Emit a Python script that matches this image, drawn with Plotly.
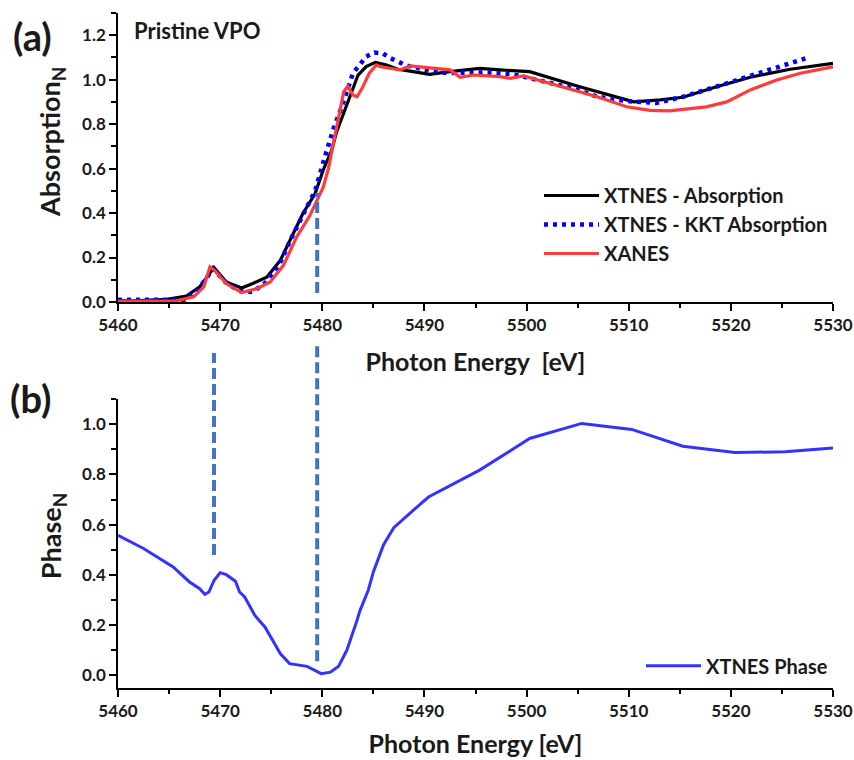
import plotly.graph_objects as go
from plotly.subplots import make_subplots

# ---- (a) normalised absorption, Pristine VPO ----
abs_energy = [5460, 5462, 5464.8, 5466.7, 5468.0, 5469.4, 5470.6, 5472.1, 5473.2, 5474.6,
              5475.9, 5477.2, 5478.1, 5479.3, 5480.1, 5480.9, 5481.4, 5482.7, 5483.5, 5484.3,
              5485.2, 5486.3, 5487.4, 5488.9, 5490.5, 5492.5, 5495.4, 5497.4, 5500.3, 5505.2,
              5510.5, 5513.1, 5515.3, 5518.6, 5521.9, 5525.8, 5530]
abs_xtnes = [0.005, 0.006, 0.012, 0.027, 0.068, 0.155, 0.090, 0.063, 0.083, 0.113,
             0.188, 0.308, 0.398, 0.488, 0.595, 0.680, 0.765, 0.923, 1.021, 1.059,
             1.078, 1.066, 1.047, 1.036, 1.024, 1.036, 1.051, 1.044, 1.036, 0.968,
             0.900, 0.909, 0.921, 0.968, 1.011, 1.047, 1.073]

kkt_energy = [5460, 5462, 5464, 5465.5, 5466.5, 5467.5, 5468.4, 5469.3, 5470.5, 5471.8,
              5473.2, 5474.5, 5475.8, 5477.0, 5478.2, 5479.3, 5480.3, 5481.1, 5482.0, 5482.7,
              5483.0, 5483.7, 5484.3, 5485.1, 5485.9, 5486.7, 5487.5, 5488.3, 5489.1, 5490.5,
              5492.2, 5494.1, 5496.0, 5498.7, 5501.5, 5504.3, 5507.0, 5509.8, 5512.7, 5515.3,
              5519.1, 5521.9, 5524.5, 5527.3]
kkt_abs = [0.010, 0.010, 0.008, 0.005, 0.010, 0.040, 0.090, 0.150, 0.090, 0.050,
           0.045, 0.090, 0.170, 0.290, 0.400, 0.500, 0.660, 0.780, 0.890, 0.991,
           1.029, 1.069, 1.104, 1.122, 1.119, 1.096, 1.078, 1.063, 1.055, 1.040,
           1.030, 1.030, 1.033, 1.024, 0.994, 0.964, 0.923, 0.904, 0.895, 0.923,
           0.976, 1.017, 1.056, 1.096]

xanes_energy = [5460, 5464.5, 5465.7, 5467.4, 5468.4, 5469.0, 5469.5, 5470.6, 5472.1, 5473.6,
                5474.9, 5476.2, 5477.5, 5478.8, 5480.1, 5480.6, 5481.6, 5482.1, 5482.5, 5483.0,
                5483.4, 5483.9, 5484.6, 5485.3, 5485.7, 5486.5, 5487.6, 5488.6, 5490.8, 5492.5,
                5493.5, 5494.8, 5497.4, 5498.4, 5499.7, 5503.6, 5506.9, 5509.8, 5512.1, 5514.0,
                5517.6, 5519.6, 5521.9, 5524.5, 5526.8, 5530]
xanes_abs = [0.003, 0.002, 0.005, 0.023, 0.068, 0.158, 0.140, 0.083, 0.042, 0.060,
             0.090, 0.165, 0.293, 0.390, 0.518, 0.600, 0.820, 0.946, 0.971, 0.931,
             0.923, 0.961, 1.029, 1.066, 1.058, 1.051, 1.044, 1.062, 1.051, 1.044,
             1.011, 1.021, 1.014, 1.006, 1.017, 0.968, 0.923, 0.878, 0.862, 0.860,
             0.878, 0.900, 0.954, 0.999, 1.029, 1.058]

# ---- (b) normalised XTNES phase ----
phase_energy = [5460, 5462.5, 5465.4, 5467.0, 5468.0, 5468.5, 5468.9, 5469.4, 5470.0, 5470.6,
                5471.5, 5471.9, 5472.4, 5473.4, 5474.4, 5475.2, 5475.9, 5476.8, 5478.5, 5479.9,
                5480.8, 5481.6, 5482.4, 5483.4, 5483.7, 5484.5, 5485.0, 5486.0, 5487.0, 5488.9,
                5490.4, 5495.4, 5500.3, 5505.4, 5510.3, 5515.3, 5520.4, 5525.3, 5530]
phase = [0.558, 0.505, 0.432, 0.372, 0.345, 0.323, 0.332, 0.378, 0.409, 0.401,
         0.375, 0.332, 0.312, 0.239, 0.192, 0.133, 0.086, 0.047, 0.036, 0.007,
         0.013, 0.037, 0.100, 0.219, 0.259, 0.339, 0.412, 0.520, 0.588, 0.657,
         0.710, 0.817, 0.943, 1.003, 0.979, 0.912, 0.887, 0.890, 0.905]

# energies of the pre-edge peak and the edge marked by dashed guides
pre_edge_E = 5469.4
edge_E = 5479.5

x_ticks = [5460, 5470, 5480, 5490, 5500, 5510, 5520, 5530]

FONT = "Lato"
TXT = "#1a1a1a"
GUIDE = "#4472c4"
GUIDE_DASH = "11px,5px"

fig = make_subplots(rows=2, cols=1, vertical_spacing=0.0)

fig.add_trace(go.Scatter(x=abs_energy, y=abs_xtnes, mode="lines", name="XTNES - Absorption",
                         line=dict(color="black", width=3.2), legend="legend",
                         legendgroup="a1"), row=1, col=1)
fig.add_trace(go.Scatter(x=kkt_energy, y=kkt_abs, mode="lines", name="XTNES - KKT Absorption",
                         line=dict(color="#0000ff", width=4.5, dash="4px,5px"), legend="legend",
                         legendgroup="a2"), row=1, col=1)
fig.add_trace(go.Scatter(x=xanes_energy, y=xanes_abs, mode="lines", name="XANES",
                         line=dict(color="#ff3b3b", width=3.2), legend="legend",
                         legendgroup="a3"), row=1, col=1)
fig.add_trace(go.Scatter(x=phase_energy, y=phase, mode="lines", name="XTNES Phase",
                         line=dict(color="#3333ff", width=3), legend="legend2"), row=2, col=1)

axis_common = dict(
    automargin=False,
    showline=True, linecolor="black", linewidth=1.5, mirror=False,
    ticks="outside", ticklen=7, tickwidth=1.5, tickcolor="black",
    showgrid=False, zeroline=False,
    tickfont=dict(family=FONT, size=17, color=TXT, weight="bold"),
)
xtitle_font = dict(family=FONT, size=25, color=TXT, weight="bold")
ytitle_font = dict(family=FONT, size=27, color=TXT, weight="bold")

fig.update_xaxes(**axis_common, range=[5460, 5530], tickvals=x_ticks,
                 minor=dict(ticks="outside", ticklen=4, tickwidth=1.5, tickcolor="black",
                            dtick=5, tick0=5460))
fig.update_xaxes(row=1, col=1, title=dict(text="Photon Energy  [eV]", standoff=19,
                                          font=xtitle_font))
fig.update_xaxes(row=2, col=1, title=dict(text="Photon Energy [eV]", standoff=15,
                                          font=xtitle_font))

fig.update_yaxes(**axis_common, tickformat=".1f",
                 minor=dict(ticks="outside", ticklen=5, tickwidth=1.5, tickcolor="black",
                            dtick=0.1))
fig.update_yaxes(row=1, col=1, range=[0, 1.3], dtick=0.2, tick0=0, domain=[0.5719, 1.0])
fig.update_yaxes(row=2, col=1, range=[-0.05, 1.1], dtick=0.2, tick0=0, domain=[0, 0.4281])

# vertical axis titles, placed a little above each panel's centre
fig.add_annotation(text="Absorption<sub>N</sub>", xref="paper", yref="paper",
                   x=-0.0923, y=0.809, textangle=-90, showarrow=False,
                   xanchor="center", yanchor="middle", font=ytitle_font)
fig.add_annotation(text="Phase<sub>N</sub>", xref="paper", yref="paper",
                   x=-0.0923, y=0.225, textangle=-90, showarrow=False,
                   xanchor="center", yanchor="middle", font=ytitle_font)

# dashed guides: edge position in (a), and both positions running into (b)
fig.add_shape(type="line", xref="x", yref="y", x0=edge_E, x1=edge_E, y0=0.04, y1=0.49,
              line=dict(color=GUIDE, width=4, dash=GUIDE_DASH))
fig.add_shape(type="line", xref="x2", yref="y2 domain", x0=pre_edge_E, x1=pre_edge_E,
              y0=0.46, y1=1.159, line=dict(color=GUIDE, width=4, dash=GUIDE_DASH))
fig.add_shape(type="line", xref="x2", yref="y2 domain", x0=edge_E, x1=edge_E,
              y0=0.093, y1=1.183, line=dict(color=GUIDE, width=4, dash=GUIDE_DASH))

fig.add_annotation(text="(a)", xref="paper", yref="paper", x=-0.150, y=0.966,
                   xanchor="left", yanchor="middle", showarrow=False,
                   font=dict(family=FONT, size=38, color=TXT, weight="bold"))
fig.add_annotation(text="(b)", xref="paper", yref="paper", x=-0.154, y=0.430,
                   xanchor="left", yanchor="middle", showarrow=False,
                   font=dict(family=FONT, size=38, color=TXT, weight="bold"))
fig.add_annotation(text="Pristine VPO", xref="paper", yref="paper", x=0.019, y=0.974,
                   xanchor="left", yanchor="middle", showarrow=False,
                   font=dict(family=FONT, size=22, color=TXT, weight="bold"))

legend_font = dict(family=FONT, size=20, color=TXT, weight="bold")
fig.update_layout(
    width=854, height=760,
    margin=dict(l=118, r=21, t=13, b=72),
    paper_bgcolor="white", plot_bgcolor="white",
    showlegend=True,
    legend=dict(x=1.0, y=0.7585, xanchor="right", yanchor="top", bgcolor="rgba(0,0,0,0)",
                font=legend_font, tracegroupgap=0, itemwidth=55),
    legend2=dict(x=1.0, y=0.033, xanchor="right", yanchor="middle", bgcolor="rgba(0,0,0,0)",
                 font=legend_font, itemwidth=55),
)

fig.write_html("out.html")
